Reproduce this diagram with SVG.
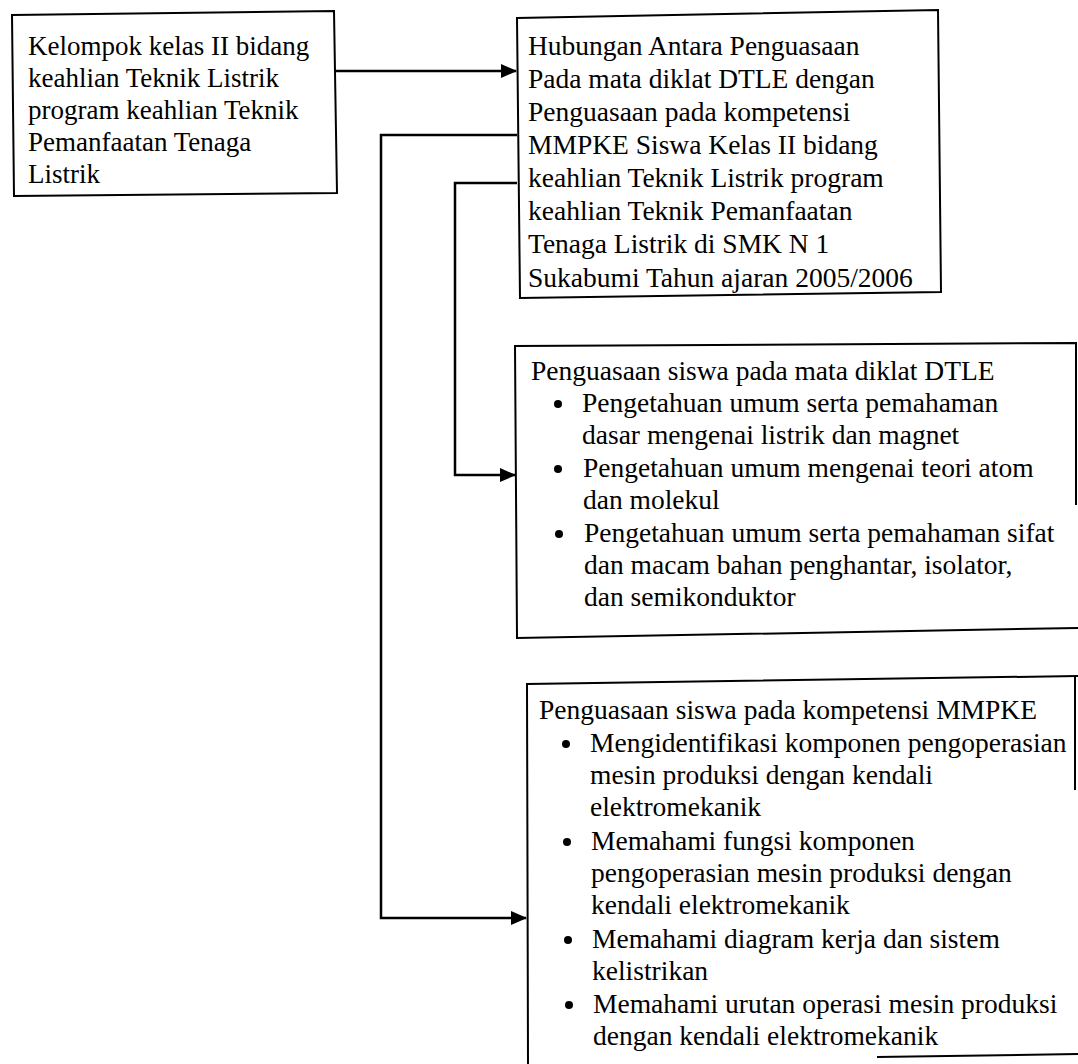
<svg xmlns="http://www.w3.org/2000/svg" width="1078" height="1064" viewBox="0 0 1078 1064">
<style>
.box{fill:none;stroke:#000;stroke-width:2}
.t{font-family:"Liberation Serif","Times New Roman",serif;font-size:27.5px;fill:#000}
.t1{font-size:27px}
.c{fill:none;stroke:#000;stroke-width:2.5}
</style>
<defs>
<marker id="ah" markerUnits="userSpaceOnUse" markerWidth="16" markerHeight="14" refX="15" refY="7" orient="auto">
<path d="M0,0 L16,7 L0,14 Z" fill="#000"/>
</marker>
</defs>
<rect width="1078" height="1064" fill="#fff"/>
<g id="connectors">
<path class="c" d="M336,71 L516,71" marker-end="url(#ah)"/>
<path class="c" d="M517,135 L381,135 L381,918 L526,918" marker-end="url(#ah)"/>
<path class="c" d="M517,183 L455,183 L455,475 L515,475" marker-end="url(#ah)"/>
</g>
<g id="node1">
<path class="box" d="M12,15 L334,11 L337,193 L14,196 Z"/>
<text class="t t1" x="28" y="55">Kelompok kelas II bidang</text>
<text class="t t1" x="28" y="87">keahlian Teknik Listrik</text>
<text class="t t1" x="28" y="119">program keahlian Teknik</text>
<text class="t t1" x="28" y="151">Pemanfaatan Tenaga</text>
<text class="t t1" x="28" y="183">Listrik</text>
</g>
<g id="node2">
<path class="box" d="M517,18 L938,10 L941,292 L520,298 Z"/>
<text class="t" x="528" y="55">Hubungan Antara Penguasaan</text>
<text class="t" x="528" y="88">Pada mata diklat DTLE dengan</text>
<text class="t" x="528" y="121">Penguasaan pada kompetensi</text>
<text class="t" x="528" y="154">MMPKE Siswa Kelas II bidang</text>
<text class="t" x="528" y="187">keahlian Teknik Listrik program</text>
<text class="t" x="528" y="220">keahlian Teknik Pemanfaatan</text>
<text class="t" x="528" y="253">Tenaga Listrik di SMK N 1</text>
<text class="t" x="528" y="287">Sukabumi Tahun ajaran 2005/2006</text>
</g>
<g id="node3">
<path class="box" d="M1076,505 L1076,343 L515,346 L517,638 L1078,628"/>
<text class="t" x="531" y="380">Penguasaan siswa pada mata diklat DTLE</text>
<circle cx="558" cy="404" r="4"/>
<text class="t" x="582" y="412">Pengetahuan umum serta pemahaman</text>
<text class="t" x="582" y="444">dasar mengenai listrik dan magnet</text>
<circle cx="558" cy="469" r="4"/>
<text class="t" x="583" y="477">Pengetahuan umum mengenai teori atom</text>
<text class="t" x="583" y="509">dan molekul</text>
<circle cx="559" cy="534" r="4"/>
<text class="t" x="584" y="542">Pengetahuan umum serta pemahaman sifat</text>
<text class="t" x="584" y="574">dan macam bahan penghantar, isolator,</text>
<text class="t" x="584" y="606">dan semikonduktor</text>
</g>
<g id="node4">
<path class="box" d="M1078,676 L527,684 L528,1064"/>
<path class="box" d="M1075,677 L1075,790"/>
<path class="box" d="M877,1057 L1078,1054"/>
<text class="t" x="539" y="719">Penguasaan siswa pada kompetensi MMPKE</text>
<circle cx="566" cy="744" r="4"/>
<text class="t" x="590" y="752">Mengidentifikasi komponen pengoperasian</text>
<text class="t" x="590" y="784">mesin produksi dengan kendali</text>
<text class="t" x="590" y="816">elektromekanik</text>
<circle cx="567" cy="842" r="4"/>
<text class="t" x="591" y="850">Memahami fungsi komponen</text>
<text class="t" x="591" y="882">pengoperasian mesin produksi dengan</text>
<text class="t" x="591" y="914">kendali elektromekanik</text>
<circle cx="568" cy="940" r="4"/>
<text class="t" x="592" y="948">Memahami diagram kerja dan sistem</text>
<text class="t" x="592" y="980">kelistrikan</text>
<circle cx="569" cy="1005" r="4"/>
<text class="t" x="593" y="1013">Memahami urutan operasi mesin produksi</text>
<text class="t" x="593" y="1045">dengan kendali elektromekanik</text>
</g>
</svg>
